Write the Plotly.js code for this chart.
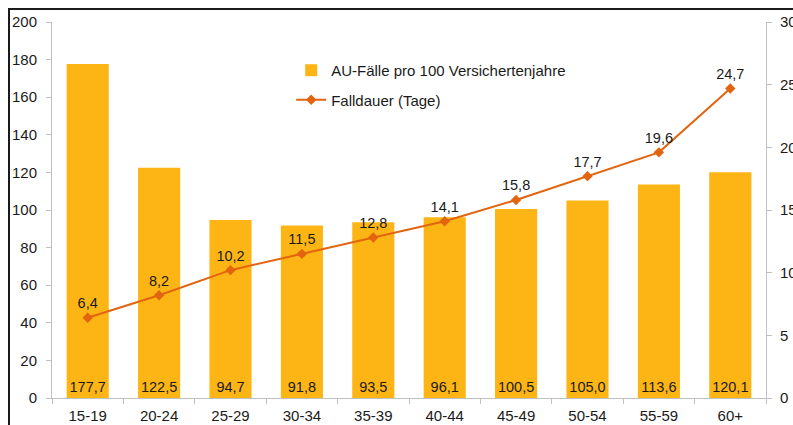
<!DOCTYPE html>
<html>
<head>
<meta charset="utf-8">
<script src="https://cdn.plot.ly/plotly-3.0.1.min.js"></script>
<style>
  html, body { margin: 0; padding: 0; overflow: hidden; background: #fff; width: 793px; height: 425px; }
  #frame { position: absolute; left: 8px; top: 8px; border-top: 2px solid #1a1a1a; border-left: 2px solid #1a1a1a; width: 783px; height: 415px; overflow: hidden; }
  #chart { width: 800px; height: 415px; }
</style>
</head>
<body>
<div id="frame"><div id="chart"></div></div>
<script>
const categories = ["15-19","20-24","25-29","30-34","35-39","40-44","45-49","50-54","55-59","60+"];
const auFaelle = [177.7,122.5,94.7,91.8,93.5,96.1,100.5,105.0,113.6,120.1];
const falldauer = [6.4,8.2,10.2,11.5,12.8,14.1,15.8,17.7,19.6,24.7];
const seriesNames = ["AU-Fälle pro 100 Versichertenjahre", "Falldauer (Tage)"];

const font = "Liberation Sans, Arial, sans-serif";

const bars = {
  type: "bar",
  name: seriesNames[0],
  x: categories,
  y: auFaelle,
  marker: { color: "#FDB515" },
  texttemplate: "%{y:.1f}",
  textposition: "inside",
  insidetextanchor: "start",
  constraintext: "none",
  textangle: 0,
  textfont: { family: font, size: 14.5, color: "#1a1a1a" },
  legendgroup: "a",
  hoverinfo: "skip"
};

const line = {
  type: "scatter",
  mode: "lines+markers+text",
  name: seriesNames[1],
  x: categories,
  y: falldauer,
  yaxis: "y2",
  line: { color: "#E2640F", width: 2 },
  marker: { symbol: "diamond", size: 8, color: "#E2640F" },
  texttemplate: "%{y:.1f}",
  textposition: "top center",
  textfont: { family: font, size: 14.5, color: "#1a1a1a" },
  legendgroup: "b",
  hoverinfo: "skip",
  cliponaxis: false
};

const layout = {
  width: 800,
  height: 415,
  margin: { l: 42, r: 44, t: 12, b: 27, autoexpand: false },
  paper_bgcolor: "#fff",
  plot_bgcolor: "#fff",
  separators: ",.",
  bargap: 0.41,
  font: { family: font, size: 15, color: "#1a1a1a" },
  showlegend: true,
  legend: {
    x: 0.335, y: 0.915, xanchor: "left", yanchor: "top",
    traceorder: "grouped", tracegroupgap: 7,
    font: { family: font, size: 15, color: "#1a1a1a" },
    bgcolor: "rgba(0,0,0,0)"
  },
  xaxis: {
    type: "category", automargin: false, range: [-0.5, 9.5], autorange: false,
    showline: true, linecolor: "#c0c0c0", linewidth: 1,
    ticks: "outside", tickson: "boundaries", ticklen: 5, tickcolor: "#c0c0c0",
    ticklabelstandoff: 4,
    showgrid: false, zeroline: false,
    tickfont: { family: font, size: 15, color: "#1a1a1a" }
  },
  yaxis: {
    range: [0, 200], dtick: 20, automargin: false,
    showline: true, linecolor: "#c0c0c0", linewidth: 1,
    ticks: "outside", ticklen: 5, tickcolor: "#c0c0c0",
    ticklabelstandoff: 6,
    showgrid: false, zeroline: false,
    tickfont: { family: font, size: 15, color: "#1a1a1a" }
  },
  yaxis2: {
    range: [0, 30], dtick: 5, automargin: false,
    overlaying: "y", side: "right",
    showline: true, linecolor: "#c0c0c0", linewidth: 1,
    ticks: "outside", ticklen: 5, tickcolor: "#c0c0c0",
    ticklabelstandoff: 5,
    showgrid: false, zeroline: false,
    tickfont: { family: font, size: 15, color: "#1a1a1a" }
  }
};

Plotly.newPlot("chart", [bars, line], layout, { staticPlot: true, displayModeBar: false });
</script>
</body>
</html>
